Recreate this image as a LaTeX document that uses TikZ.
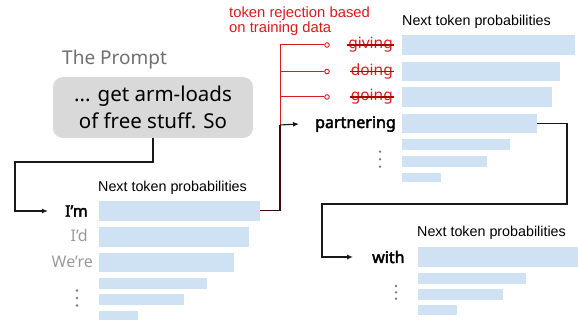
\documentclass[tikz,border=0pt]{standalone}
\usepackage{fontspec}
\setmainfont{Noto Sans}
\newfontfamily\boldf{Noto Sans}[FakeBold=2.6]
\newfontfamily\arialf{Liberation Sans}
\usetikzlibrary{arrows.meta}
\definecolor{barblue}{HTML}{CFE2F3}
\definecolor{boxgray}{HTML}{D9D9D9}
\definecolor{promptgray}{HTML}{6F6F6F}
\definecolor{altgray}{HTML}{9A9A9A}
\definecolor{rejred}{HTML}{D81B1B}
\definecolor{strikered}{HTML}{B00000}
\definecolor{maroon}{HTML}{3A0808}
\tikzset{
  bar/.style={fill=barblue, draw=none, inner sep=0pt, anchor=north west},
  bigbar/.style={bar, minimum height=20pt},
  smallbar/.style={bar, minimum height=10.7pt},
  head/.style={font=\arialf\fontsize{14.3}{16}\selectfont, inner sep=0pt, anchor=west},
  chosen/.style={font=\boldf\fontsize{16}{18}\selectfont, inner sep=0pt},
  alt/.style={font=\fontsize{16}{18}\selectfont, text=altgray, inner sep=0pt},
  struck/.style={font=\fontsize{15.5}{18}\selectfont, text=rejred, inner sep=0pt, anchor=east},
  strikeline/.style={draw=strikered, line width=1.1pt},
  conn/.style={draw=black!90, line width=1.1pt},
  arr/.style={conn, -{Latex[length=6pt,width=5pt]}},
  rejline/.style={draw=rejred, line width=1pt},
  rejcirc/.style={circle, draw=rejred, fill=white, line width=0.9pt, minimum size=4.6pt, inner sep=0pt},
  dotmark/.style={fill=altgray!80!black},
}
\begin{document}
\begin{tikzpicture}[x=1pt,y=-1pt]
\useasboundingbox (0,0) rectangle (578,320);

% prompt
\node[font=\fontsize{19}{22}\selectfont, text=promptgray, anchor=west, inner sep=0pt] (ptitle) at (62,60) {The Prompt};
\node[fill=boxgray, rounded corners=10pt, minimum width=200pt, minimum height=61pt, inner sep=0pt,
      align=center, font=\fontsize{20.5}{27}\selectfont] (prompt) at (153,107.5)
      {... get arm-loads\\of free stuff. So};

% ---------- lower-left group ----------
\node[head] (hL) at (98,188) {Next token probabilities};
\node[bigbar, minimum width=161pt] (L1) at (99,200.7) {};
\node[bigbar, minimum width=150pt] (L2) at (99,226.7) {};
\node[bigbar, minimum width=135pt, minimum height=19pt] (L3) at (99,252.7) {};
\node[smallbar, minimum width=108pt] (L4) at (99,277.7) {};
\node[smallbar, minimum width=85pt] (L5) at (99,294) {};
\node[smallbar, minimum width=39pt] (L6) at (99,311) {};
\node[chosen, anchor=east] (im) at (88,211) {I’m};
\node[alt, anchor=east] (id) at (88,236) {I’d};
\node[alt, anchor=east] (were) at (93,262) {We’re};
\foreach \yy in {290.5,298,305.5} \fill[dotmark] (77,\yy) circle (1.3pt);

% ---------- top-right group ----------
\node[head] (hR) at (402,22) {Next token probabilities};
\node[bigbar, minimum width=173pt] (R1) at (402,35.3) {};
\node[bigbar, minimum width=158pt, minimum height=19.6pt] (R2) at (402,61.7) {};
\node[bigbar, minimum width=150pt, minimum height=19.7pt] (R3) at (402,87.3) {};
\node[bigbar, minimum width=135pt, minimum height=19pt] (R4) at (402,113.7) {};
\node[smallbar, minimum width=108pt] (R5) at (402,139.3) {};
\node[smallbar, minimum width=85pt] (R6) at (402,156) {};
\node[smallbar, minimum width=39pt, minimum height=9.3pt] (R7) at (402,172.7) {};
\node[struck] (w1) at (393,45) {giving};
\node[struck] (w2) at (393,71.5) {doing};
\node[struck] (w3) at (393,97) {going};
\foreach \w in {w1,w2,w3} \draw[strikeline] ([xshift=-1pt]\w.west) -- ([xshift=1pt]\w.east);
\node[chosen, anchor=west] (partnering) at (315,124) {partnering};
\foreach \yy in {151.7,159.3,166.7} \fill[dotmark] (380,\yy) circle (1.3pt);

% ---------- bottom-right group ----------
\node[head] (hB) at (417,233) {Next token probabilities};
\node[bigbar, minimum width=165pt] (B1) at (418,247) {};
\node[smallbar, minimum width=108pt] (B2) at (418,272.7) {};
\node[smallbar, minimum width=85pt] (B3) at (418,288.7) {};
\node[smallbar, minimum width=39pt, minimum height=9.7pt] (B4) at (418,305) {};
\node[chosen, anchor=west] (with) at (372,257) {with};
\foreach \yy in {286,292.3,298.7} \fill[dotmark] (396,\yy) circle (1.3pt);

% ---------- red rejection label and branches ----------
\node[font=\arialf\fontsize{14.8}{13}\selectfont, text=rejred, align=left, anchor=north west, inner sep=0pt] (rejlabel) at (229,6.5)
  {token rejection based\\on training data};
\coordinate (j) at (280,125);
\coordinate (b1) at (280,45);
\coordinate (b2) at (280,71.5);
\coordinate (b3) at (280,97);
\node[rejcirc] (c1) at (327,45) {};
\node[rejcirc] (c2) at (327,71.5) {};
\node[rejcirc] (c3) at (327,97) {};
\draw[rejline] (j) -- (b1);
\draw[rejline] (b1) -- (c1);
\draw[rejline] (b2) -- (c2);
\draw[rejline] (b3) -- (c3);

% ---------- connectors ----------
\coordinate (k1) at (15,162);
\draw[arr] (prompt.south) |- (k1) |- ([xshift=-17pt]im.west);
\draw[conn, draw=maroon] (L1.east) -| (j);
\draw[arr] (j) -- ([xshift=-16pt]partnering.west);
\coordinate (m1) at (567,204);
\coordinate (m2) at (322,204);
\draw[arr] (R4.east) -| (m1) -- (m2) |- ([xshift=-19pt]with.west);
\end{tikzpicture}
\end{document}
